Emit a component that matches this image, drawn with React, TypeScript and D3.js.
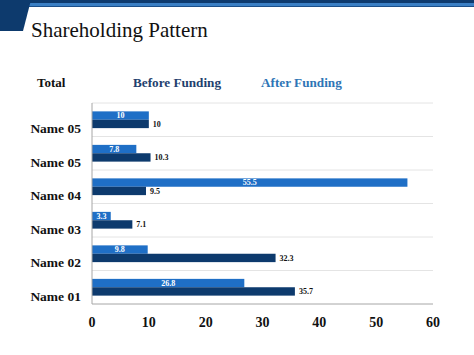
import React from "react";
import * as d3 from "d3";

const categories = ["Name 05", "Name 05", "Name 04", "Name 03", "Name 02", "Name 01"];
const afterFunding = [10, 7.8, 55.5, 3.3, 9.8, 26.8];
const beforeFunding = [10, 10.3, 9.5, 7.1, 32.3, 35.7];
const xTicks = [0, 10, 20, 30, 40, 50, 60];
const legendLabels = ["Total", "Before Funding", "After Funding"];

const W = 474;
const H = 355;
const LIGHT = "#1f6fc6";
const DARK = "#0d3a6d";
const SERIF = "'Liberation Serif', 'Times New Roman', serif";

export default function App() {
  const x = d3.scaleLinear().domain([0, 60]).range([92, 433]);
  const y = d3
    .scaleBand<number>()
    .domain(d3.range(categories.length))
    .range([103, 304])
    .paddingInner(0.5)
    .paddingOuter(0.25);
  const step = y.step();
  const bh = y.bandwidth() / 2;

  return (
    <svg
      width={W}
      height={H}
      style={{ position: "absolute", left: 0, top: 0, background: "#fff" }}
      fontFamily={SERIF}
    >
      {/* header decoration */}
      <rect x={0} y={0} width={W} height={3} fill="#0d3a6d" />
      <rect x={0} y={3} width={W} height={3} fill="#3a7fc4" />
      <rect x={0} y={6} width={W} height={1} fill="#1a4f8a" />
      <polygon points="0,0 31,0 23,31 0,31" fill="#0d3a6d" />
      <text x={31} y={37} fontSize={21} fill="#111">
        Shareholding Pattern
      </text>

      {/* legend row */}
      <text x={37} y={87} fontSize={13} fontWeight="bold" fill="#111">
        {legendLabels[0]}
      </text>
      <text x={133} y={87} fontSize={13.2} fontWeight="bold" fill="#1f3f6e">
        {legendLabels[1]}
      </text>
      <text x={261} y={87} fontSize={13.2} fontWeight="bold" fill="#2e75b6">
        {legendLabels[2]}
      </text>

      {/* gridlines */}
      {d3.range(categories.length).map((i) => (
        <line
          key={"g" + i}
          x1={92}
          x2={433}
          y1={103 + i * step}
          y2={103 + i * step}
          stroke="#e4e4e4"
          strokeWidth={1}
        />
      ))}

      {/* bars */}
      {categories.map((c, i) => {
        const y0 = y(i) as number;
        return (
          <g key={"b" + i}>
            <rect x={x(0)} y={y0} width={x(afterFunding[i]) - x(0)} height={bh} fill={LIGHT} />
            <rect x={x(0)} y={y0 + bh} width={x(beforeFunding[i]) - x(0)} height={bh} fill={DARK} />
            <text
              x={(x(0) + x(afterFunding[i])) / 2}
              y={y0 + bh / 2 + 2.8}
              fontSize={8}
              fontWeight="bold"
              fill="#fff"
              textAnchor="middle"
            >
              {afterFunding[i]}
            </text>
            <text
              x={x(beforeFunding[i]) + 4}
              y={y0 + bh * 1.5 + 2.8}
              fontSize={8}
              fontWeight="bold"
              fill="#111"
            >
              {beforeFunding[i]}
            </text>
            <text
              x={81}
              y={103 + (i + 0.5) * step + 13.5}
              fontSize={13.5}
              fontWeight="bold"
              fill="#111"
              textAnchor="end"
            >
              {c}
            </text>
          </g>
        );
      })}

      {/* axes */}
      <line x1={92} x2={92} y1={103} y2={304} stroke="#a6a6a6" />
      <line x1={92} x2={433} y1={304} y2={304} stroke="#a6a6a6" />
      {xTicks.map((t) => (
        <text
          key={"t" + t}
          x={x(t)}
          y={327}
          fontSize={14}
          fontWeight="bold"
          fill="#111"
          textAnchor="middle"
        >
          {t}
        </text>
      ))}
    </svg>
  );
}
